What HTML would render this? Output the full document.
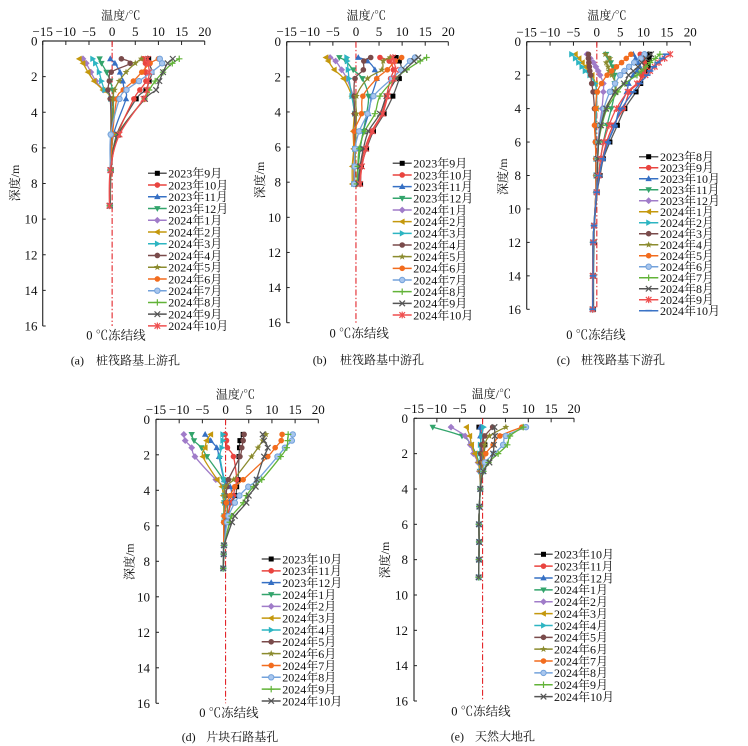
<!DOCTYPE html>
<html><head><meta charset="utf-8">
<style>
html,body{margin:0;padding:0;background:#fff;}
svg{display:block;}
text{font-family:"Liberation Serif","Noto Serif CJK SC",serif;fill:#111;}
.t{font-size:13px;}
.lg{font-size:12px;}
.ti{font-size:12px;}
.fz{font-size:12.5px;}
.cap{font-size:12px;}
</style></head><body>
<svg id="s" width="748" height="746" viewBox="0 0 748 746" xmlns="http://www.w3.org/2000/svg">
<g id="plots"></g>

<!-- ===== Chart A ===== -->
<g class="t" text-anchor="middle">
<text x="42.7" y="36">−15</text><text x="65.8" y="36">−10</text><text x="89.0" y="36">−5</text><text x="112.1" y="36">0</text><text x="135.3" y="36">5</text><text x="158.4" y="36">10</text><text x="181.6" y="36">15</text><text x="204.7" y="36">20</text>
</g>
<g class="t" text-anchor="end">
<text x="37.5" y="45.5">0</text><text x="37.5" y="81.1">2</text><text x="37.5" y="116.8">4</text><text x="37.5" y="152.4">6</text><text x="37.5" y="188">8</text><text x="37.5" y="223.6">10</text><text x="37.5" y="259.3">12</text><text x="37.5" y="294.9">14</text><text x="37.5" y="330.5">16</text>
</g>
<text class="ti" x="120.8" y="19.5" text-anchor="middle">温度/℃</text>
<text class="ti" transform="translate(19,183) rotate(-90)" text-anchor="middle">深度/m</text>
<text class="fz" x="116" y="339.5" text-anchor="middle">0 ℃冻结线</text>
<text class="cap" x="70.7" y="364.5">(a)</text><text class="cap" x="180" y="364.5" text-anchor="end">桩筏路基上游孔</text>
<g class="lg">
<text x="168.3" y="177.6">2023年9月</text><text x="168.3" y="189.3">2023年10月</text><text x="168.3" y="201.1">2023年11月</text><text x="168.3" y="212.8">2023年12月</text><text x="168.3" y="224.6">2024年1月</text><text x="168.3" y="236.3">2024年2月</text><text x="168.3" y="248.0">2024年3月</text><text x="168.3" y="259.8">2024年4月</text><text x="168.3" y="271.5">2024年5月</text><text x="168.3" y="283.3">2024年6月</text><text x="168.3" y="295.0">2024年7月</text><text x="168.3" y="306.7">2024年8月</text><text x="168.3" y="318.5">2024年9月</text><text x="168.3" y="330.2">2024年10月</text>
</g>

<!-- ===== Chart B ===== -->
<g class="t" text-anchor="middle">
<text x="286.7" y="36">−15</text><text x="309.8" y="36">−10</text><text x="332.9" y="36">−5</text><text x="356.0" y="36">0</text><text x="379.0" y="36">5</text><text x="402.1" y="36">10</text><text x="425.2" y="36">15</text><text x="448.3" y="36">20</text>
</g>
<g class="t" text-anchor="end">
<text x="281" y="46.2">0</text><text x="281" y="81.3">2</text><text x="281" y="116.5">4</text><text x="281" y="151.6">6</text><text x="281" y="186.7">8</text><text x="281" y="221.8">10</text><text x="281" y="257.0">12</text><text x="281" y="292.1">14</text><text x="281" y="327.2">16</text>
</g>
<text class="ti" x="366.3" y="19.5" text-anchor="middle">温度/℃</text>
<text class="ti" transform="translate(264,180) rotate(-90)" text-anchor="middle">深度/m</text>
<text class="fz" x="359.2" y="337.5" text-anchor="middle">0 ℃冻结线</text>
<text class="cap" x="312.7" y="363.8">(b)</text><text class="cap" x="424" y="363.8" text-anchor="end">桩筏路基中游孔</text>
<g class="lg">
<text x="413.3" y="167.6">2023年9月</text><text x="413.3" y="179.3">2023年10月</text><text x="413.3" y="190.9">2023年11月</text><text x="413.3" y="202.6">2023年12月</text><text x="413.3" y="214.3">2024年1月</text><text x="413.3" y="226.0">2024年2月</text><text x="413.3" y="237.6">2024年3月</text><text x="413.3" y="249.3">2024年4月</text><text x="413.3" y="261.0">2024年5月</text><text x="413.3" y="272.6">2024年6月</text><text x="413.3" y="284.3">2024年7月</text><text x="413.3" y="296.0">2024年8月</text><text x="413.3" y="307.6">2024年9月</text><text x="413.3" y="319.3">2024年10月</text>
</g>

<!-- ===== Chart C ===== -->
<g class="t" text-anchor="middle">
<text x="526.7" y="36.5">−15</text><text x="550.1" y="36.5">−10</text><text x="573.4" y="36.5">−5</text><text x="596.8" y="36.5">0</text><text x="620.2" y="36.5">5</text><text x="643.5" y="36.5">10</text><text x="666.9" y="36.5">15</text><text x="690.3" y="36.5">20</text>
</g>
<g class="t" text-anchor="end">
<text x="521" y="46.2">0</text><text x="521" y="79.7">2</text><text x="521" y="113.1">4</text><text x="521" y="146.6">6</text><text x="521" y="180">8</text><text x="521" y="213.5">10</text><text x="521" y="246.9">12</text><text x="521" y="280.4">14</text><text x="521" y="313.8">16</text>
</g>
<text class="ti" x="607" y="19.5" text-anchor="middle">温度/℃</text>
<text class="ti" transform="translate(507,176.7) rotate(-90)" text-anchor="middle">深度/m</text>
<text class="fz" x="596" y="338.8" text-anchor="middle">0 ℃冻结线</text>
<text class="cap" x="556.7" y="363.8">(c)</text><text class="cap" x="665" y="363.8" text-anchor="end">桩筏路基下游孔</text>
<g class="lg">
<text x="660" y="161">2023年8月</text><text x="660" y="172">2023年9月</text><text x="660" y="183">2023年10月</text><text x="660" y="194">2023年11月</text><text x="660" y="205">2023年12月</text><text x="660" y="216">2024年1月</text><text x="660" y="227">2024年2月</text><text x="660" y="238">2024年3月</text><text x="660" y="249">2024年4月</text><text x="660" y="260">2024年5月</text><text x="660" y="271">2024年6月</text><text x="660" y="282">2024年7月</text><text x="660" y="293">2024年8月</text><text x="660" y="304">2024年9月</text><text x="660" y="315">2024年10月</text>
</g>

<!-- ===== Chart D ===== -->
<g class="t" text-anchor="middle">
<text x="156" y="413.8">−15</text><text x="179.2" y="413.8">−10</text><text x="202.4" y="413.8">−5</text><text x="225.6" y="413.8">0</text><text x="248.7" y="413.8">5</text><text x="271.9" y="413.8">10</text><text x="295.1" y="413.8">15</text><text x="318.3" y="413.8">20</text>
</g>
<g class="t" text-anchor="end">
<text x="150" y="423.8">0</text><text x="150" y="459.3">2</text><text x="150" y="494.8">4</text><text x="150" y="530.3">6</text><text x="150" y="565.8">8</text><text x="150" y="601.3">10</text><text x="150" y="636.8">12</text><text x="150" y="672.3">14</text><text x="150" y="707.8">16</text>
</g>
<text class="ti" x="235.5" y="398.5" text-anchor="middle">温度/℃</text>
<text class="ti" transform="translate(133.3,561.7) rotate(-90)" text-anchor="middle">深度/m</text>
<text class="fz" x="229" y="717" text-anchor="middle">0 ℃冻结线</text>
<text class="cap" x="181.7" y="741">(d)</text><text class="cap" x="278.3" y="741" text-anchor="end">片块石路基孔</text>
<g class="lg">
<text x="282.3" y="563.3">2023年10月</text><text x="282.3" y="575.1">2023年11月</text><text x="282.3" y="587.0">2023年12月</text><text x="282.3" y="598.8">2024年1月</text><text x="282.3" y="610.6">2024年2月</text><text x="282.3" y="622.5">2024年3月</text><text x="282.3" y="634.3">2024年4月</text><text x="282.3" y="646.1">2024年5月</text><text x="282.3" y="657.9">2024年6月</text><text x="282.3" y="669.8">2024年7月</text><text x="282.3" y="681.6">2024年8月</text><text x="282.3" y="693.4">2024年9月</text><text x="282.3" y="705.3">2024年10月</text>
</g>

<!-- ===== Chart E ===== -->
<g class="t" text-anchor="middle">
<text x="414" y="412.8">−15</text><text x="436.9" y="412.8">−10</text><text x="459.7" y="412.8">−5</text><text x="482.6" y="412.8">0</text><text x="505.4" y="412.8">5</text><text x="528.3" y="412.8">10</text><text x="551.1" y="412.8">15</text><text x="574" y="412.8">20</text>
</g>
<g class="t" text-anchor="end">
<text x="408" y="422.8">0</text><text x="408" y="458.1">2</text><text x="408" y="493.5">4</text><text x="408" y="528.8">6</text><text x="408" y="564.2">8</text><text x="408" y="599.5">10</text><text x="408" y="634.8">12</text><text x="408" y="670.2">14</text><text x="408" y="705.5">16</text>
</g>
<text class="ti" x="491.3" y="397.8" text-anchor="middle">温度/℃</text>
<text class="ti" transform="translate(389,560) rotate(-90)" text-anchor="middle">深度/m</text>
<text class="fz" x="481" y="715.5" text-anchor="middle">0 ℃冻结线</text>
<text class="cap" x="450.7" y="740.5">(e)</text><text class="cap" x="535" y="740.5" text-anchor="end">天然大地孔</text>
<g class="lg">
<text x="554" y="558.6">2023年10月</text><text x="554" y="570.5">2023年11月</text><text x="554" y="582.3">2023年12月</text><text x="554" y="594.2">2024年1月</text><text x="554" y="606.0">2024年2月</text><text x="554" y="617.9">2024年3月</text><text x="554" y="629.8">2024年4月</text><text x="554" y="641.6">2024年5月</text><text x="554" y="653.5">2024年6月</text><text x="554" y="665.3">2024年7月</text><text x="554" y="677.2">2024年8月</text><text x="554" y="689.1">2024年9月</text><text x="554" y="700.9">2024年10月</text>
</g>
</svg>
<script>
(function(){
var NS='http://www.w3.org/2000/svg';
var root=document.getElementById('plots');
function el(tag,attrs,parent){var e=document.createElementNS(NS,tag);for(var k in attrs)e.setAttribute(k,attrs[k]);(parent||root).appendChild(e);return e;}
var S=[
 ['#595959','sq','#000000'],
 ['#e9443f','ci'],
 ['#3670c4','tu'],
 ['#33a46c','td'],
 ['#a07cc9','di'],
 ['#c4980d','tl'],
 ['#2db5c2','tr'],
 ['#7a4b4b','ci'],
 ['#8b8b2e','st'],
 ['#f26c1e','ci'],
 ['#73a2db','oc'],
 ['#62b338','pl'],
 ['#555555','xx'],
 ['#ef4f4f','as'],
 ['#3b73c6','da']
];
function marker(g,st,x,y){
 var c=st[0],t=st[1],mc=st[2]||c;
 if(t==='sq'){el('rect',{x:x-2.5,y:y-2.5,width:5,height:5,fill:mc},g);}
 else if(t==='ci'){el('circle',{cx:x,cy:y,r:2.8,fill:mc},g);}
 else if(t==='oc'){el('circle',{cx:x,cy:y,r:2.7,fill:'#a8c6ee',stroke:mc,'stroke-width':1},g);}
 else if(t==='tu'){el('polygon',{points:(x)+','+(y-3.4)+' '+(x-3.2)+','+(y+2.4)+' '+(x+3.2)+','+(y+2.4),fill:mc},g);}
 else if(t==='td'){el('polygon',{points:(x)+','+(y+3.4)+' '+(x-3.2)+','+(y-2.4)+' '+(x+3.2)+','+(y-2.4),fill:mc},g);}
 else if(t==='tl'){el('polygon',{points:(x-3.4)+','+(y)+' '+(x+2.4)+','+(y-3.2)+' '+(x+2.4)+','+(y+3.2),fill:mc},g);}
 else if(t==='tr'){el('polygon',{points:(x+3.4)+','+(y)+' '+(x-2.4)+','+(y-3.2)+' '+(x-2.4)+','+(y+3.2),fill:mc},g);}
 else if(t==='di'){el('polygon',{points:(x)+','+(y-3.4)+' '+(x+3.4)+','+(y)+' '+(x)+','+(y+3.4)+' '+(x-3.4)+','+(y),fill:mc},g);}
 else if(t==='st'){var pts=[];for(var i=0;i<10;i++){var a=-Math.PI/2+i*Math.PI/5,rr=(i%2?1.5:3.6);pts.push((x+rr*Math.cos(a)).toFixed(2)+','+(y+rr*Math.sin(a)).toFixed(2));}el('polygon',{points:pts.join(' '),fill:mc},g);}
 else if(t==='pl'){el('path',{d:'M'+(x-3.2)+','+y+'H'+(x+3.2)+'M'+x+','+(y-3.2)+'V'+(y+3.2),stroke:mc,'stroke-width':1.2,fill:'none'},g);}
 else if(t==='xx'){el('path',{d:'M'+(x-2.8)+','+(y-2.8)+'L'+(x+2.8)+','+(y+2.8)+'M'+(x-2.8)+','+(y+2.8)+'L'+(x+2.8)+','+(y-2.8),stroke:mc,'stroke-width':1.2,fill:'none'},g);}
 else if(t==='as'){el('path',{d:'M'+(x-2.8)+','+(y-2.8)+'L'+(x+2.8)+','+(y+2.8)+'M'+(x-2.8)+','+(y+2.8)+'L'+(x+2.8)+','+(y-2.8)+'M'+x+','+(y-3.4)+'V'+(y+3.4),stroke:mc,'stroke-width':1.2,fill:'none'},g);}
 else if(t==='da'){el('path',{d:'M'+(x-3.2)+','+y+'H'+(x+3.2),stroke:mc,'stroke-width':1.7,fill:'none'},g);}
}
function smooth(p){
 var d='M'+p[0][0].toFixed(2)+','+p[0][1].toFixed(2);
 for(var i=0;i<p.length-1;i++){
  var p0=p[i-1]||p[i],p1=p[i],p2=p[i+1],p3=p[i+2]||p2;
  var c1=[p1[0]+(p2[0]-p0[0])/6,p1[1]+(p2[1]-p0[1])/6];
  var c2=[p2[0]-(p3[0]-p1[0])/6,p2[1]-(p3[1]-p1[1])/6];
  d+=' C'+c1[0].toFixed(2)+','+c1[1].toFixed(2)+' '+c2[0].toFixed(2)+','+c2[1].toFixed(2)+' '+p2[0].toFixed(2)+','+p2[1].toFixed(2);
 }
 return d;
}
function chart(C){
 var g=el('g',{});
 function px(t){return C.X0+(t+15)/35*(C.X1-C.X0);}
 function py(d){return C.Y0+d/16*(C.Y1-C.Y0);}
 el('line',{x1:C.X0,y1:C.Y0,x2:C.X0,y2:C.Y1,stroke:'#333',"stroke-width":1.2},g);
 el('line',{x1:C.X0,y1:C.Y0,x2:C.X1,y2:C.Y0,stroke:'#333',"stroke-width":1.2},g);
 for(var t=-15;t<=20;t+=5){var x=px(t);el('line',{x1:x,y1:C.Y0,x2:x,y2:C.Y0+4,stroke:'#222','stroke-width':1},g);}
 for(var d=0;d<=16;d+=2){var y=py(d);el('line',{x1:C.X0,y1:y,x2:C.X0+3,y2:y,stroke:'#222','stroke-width':1},g);}
 el('line',{x1:px(0),y1:C.Y0,x2:px(0),y2:C.Y1,stroke:'#e3262b','stroke-width':1.1,'stroke-dasharray':'6,2.2,1.4,2.2'},g);
 for(var s=0;s<C.T.length;s++){
  var st=S[s],pts=[];
  for(var i=0;i<C.D.length;i++){pts.push([px(C.T[s][i]),py(C.D[i])]);}
  el('path',{d:smooth(pts),fill:'none',stroke:st[0],'stroke-width':1.3,'stroke-linejoin':'round'},g);
  for(var i=0;i<pts.length;i++)marker(g,st,pts[i][0],pts[i][1]);
  var ly=C.L.y+C.L.dy*s;
  el('line',{x1:C.L.x1,y1:ly,x2:C.L.x2,y2:ly,stroke:st[0],'stroke-width':1.5},g);
  marker(g,st,(C.L.x1+C.L.x2)/2,ly);
 }
}

chart({X0:42.7,X1:204.7,Y0:41,Y1:326,
 D:[1.0,1.25,1.75,2.25,2.75,3.25,5.25,7.25,9.25],
 L:{x1:148,x2:166.7,y:173.3,dy:11.74},
 T:[
 [7.9,8.0,8.6,8.0,7.3,5.2,1.0,-0.2,-0.4],
 [6.7,7.2,7.1,7.3,6.0,4.7,1.2,-0.3,-0.5],
 [-0.4,0.6,1.7,2.3,2.6,3.0,0.3,-0.3,-0.5],
 [-2.7,-2.3,-1.2,-0.4,0.1,0.3,0.1,-0.3,-0.5],
 [-6.3,-5.6,-4.6,-3.5,-1.9,-0.3,-0.2,-0.4,-0.5],
 [-7.1,-6.3,-5.2,-3.9,-2.0,-0.4,-0.3,-0.4,-0.5],
 [-4.2,-3.6,-2.8,-2.3,-1.6,-0.3,-0.2,-0.4,-0.5],
 [2.0,3.9,-0.2,-0.6,-0.9,-0.4,-0.2,-0.4,-0.5],
 [6.3,5.0,3.0,1.5,0.5,0.2,0.0,-0.3,-0.5],
 [10.0,8.2,6.4,4.6,2.4,1.0,0.1,-0.3,-0.5],
 [10.3,10.8,8.5,5.8,3.1,1.6,-0.3,-0.4,-0.5],
 [14.5,13.0,11.0,9.3,8.0,7.0,1.2,-0.3,-0.5],
 [13.1,12.0,11.0,10.2,9.5,7.1,1.3,-0.3,-0.5],
 [7.7,7.8,8.0,7.8,7.5,6.8,1.6,-0.4,-0.6]
 ]});

chart({X0:286.7,X1:448.3,Y0:41.7,Y1:322.7,
 D:[0.9,1.1,1.6,2.1,3.1,4.1,5.1,6.1,7.1,8.1],
 L:{x1:392.7,x2:411.7,y:163.3,dy:11.67},
 T:[
 [8.7,9.4,9.9,9.4,8.0,6.1,3.8,2.3,1.2,1.0],
 [5.2,7.2,8.1,7.5,6.6,5.6,3.4,1.9,1.0,0.7],
 [0.5,2.5,4.1,4.5,3.4,2.7,1.6,0.9,0.5,0.3],
 [-3.6,-2.2,-0.6,1.4,2.7,2.3,1.6,0.9,0.5,0.2],
 [-5.6,-4.4,-3.1,-2.0,-0.6,-0.2,-0.1,-0.2,-0.3,-0.5],
 [-6.5,-6.0,-4.7,-2.7,-0.9,-0.4,-0.6,-0.5,-0.8,-0.8],
 [-2.0,-1.9,-1.7,-1.5,-0.9,-0.3,-0.2,-0.3,-0.4,-0.5],
 [3.2,1.7,1.6,-0.2,-0.4,-0.3,-0.2,-0.3,-0.4,-0.5],
 [7.4,5.9,5.6,2.5,0.1,0.1,0.0,-0.1,-0.2,-0.3],
 [9.9,8.5,6.8,4.5,1.5,1.2,-0.4,-0.3,-0.4,-0.5],
 [12.8,11.7,9.8,7.8,3.8,2.5,0.7,-0.2,-0.3,-0.4],
 [15.3,13.9,11.0,8.5,5.2,4.1,1.9,0.7,0.4,0.2],
 [13.5,12.6,10.6,8.8,6.6,5.2,2.7,1.6,0.9,0.5],
 [8.0,8.2,8.6,8.2,6.9,5.8,3.6,2.2,1.3,0.9]
 ]});

chart({X0:526.7,X1:690.3,Y0:41.7,Y1:309.3,
 D:[0.75,1,1.25,1.5,1.75,2,2.5,3,4,5,6,7,8,9,11,12,14,16],
 L:{x1:639,x2:658.3,y:156.7,dy:11.0},
 T:[
 [11.3,11.2,11.0,11.0,10.5,10.0,9.4,8.4,6.0,4.4,2.8,1.4,0.7,0.1,-0.5,-0.6,-0.7,-0.7],
 [9.3,9.8,10.2,10.4,10.0,9.6,8.8,7.0,5.7,3.5,2.1,1.2,0.5,0.0,-0.6,-0.8,-0.9,-0.9],
 [7.8,8.3,8.8,9.2,8.6,7.8,6.8,6.4,4.8,3.9,2.4,1.3,0.5,0.0,-0.6,-0.8,-0.8,-0.9],
 [2.0,2.5,3.0,3.4,3.6,3.8,3.8,3.9,3.1,2.2,1.4,0.8,0.4,0.0,-0.6,-0.8,-0.8,-0.9],
 [-2.1,-1.4,-0.7,-0.2,0.3,0.7,1.4,1.4,1.1,0.6,0.3,0.1,0.0,-0.1,-0.6,-0.8,-0.8,-0.9],
 [-4.6,-3.8,-3.1,-2.5,-1.8,-1.0,-0.3,-0.1,-0.1,-0.2,-0.2,-0.2,-0.2,-0.2,-0.6,-0.8,-0.8,-0.9],
 [-5.4,-4.6,-3.9,-3.2,-2.5,-1.5,-0.4,0.0,-0.1,-0.2,-0.2,-0.2,-0.2,-0.2,-0.6,-0.8,-0.8,-0.9],
 [-1.8,-1.8,-1.7,-1.6,-1.5,-1.3,-1.1,-0.8,-0.5,-0.4,-0.3,-0.2,-0.2,-0.2,-0.6,-0.8,-0.8,-0.9],
 [1.8,2.8,2.0,2.4,2.6,3.2,4.0,3.9,1.8,0.9,0.4,0.2,0.1,0.0,-0.6,-0.8,-0.8,-0.9],
 [7.3,6.3,5.3,4.2,3.2,2.2,1.0,0.1,-0.3,-0.5,-0.3,-0.2,-0.2,-0.2,-0.6,-0.8,-0.8,-0.9],
 [10.2,9.4,8.0,6.9,5.9,5.0,3.9,2.8,1.5,0.7,0.3,0.1,0.0,-0.1,-0.6,-0.8,-0.8,-0.9],
 [13.5,12.5,11.4,10.5,9.5,8.6,6.0,4.5,2.2,1.1,0.4,0.2,0.1,0.0,-0.6,-0.8,-0.8,-0.9],
 [11.6,10.5,9.6,8.8,7.8,6.8,5.8,3.9,2.0,0.9,0.4,0.2,0.1,0.0,-0.6,-0.8,-0.8,-0.9],
 [15.7,14.5,13.3,12.4,11.4,10.4,8.6,6.6,4.2,2.6,1.5,0.8,0.4,0.0,-0.6,-0.8,-0.9,-0.9],
 [14.8,14.0,13.0,12.2,11.4,10.8,9.2,7.8,5.3,3.8,2.4,1.3,0.5,0.0,-0.6,-0.8,-0.8,-0.9]
 ]});

chart({X0:156,X1:318.3,Y0:419.3,Y1:703.3,
 D:[0.85,1.2,1.6,2.1,3.4,3.8,4.3,4.7,5.45,5.8,7.1,7.6,8.4],
 L:{x1:261.7,x2:280.7,y:559,dy:11.83},
 T:[
 [3.8,3.1,3.0,2.9,2.7,2.4,2.2,1.2,0.5,0.2,-0.4,-0.4,-0.5],
 [-0.1,0.2,0.4,1.7,2.4,2.0,1.7,1.1,0.4,0.1,-0.4,-0.4,-0.5],
 [-4.4,-3.2,-1.9,-1.4,-0.3,1.0,1.3,0.6,0.2,0.0,-0.4,-0.4,-0.5],
 [-7.3,-6.8,-5.2,-4.0,-0.5,-0.3,-0.3,-0.3,-0.3,-0.3,-0.4,-0.4,-0.5],
 [-9.0,-8.7,-7.3,-6.6,-2.1,-0.3,-0.3,-0.3,-0.3,-0.3,-0.4,-0.4,-0.5],
 [-3.2,-4.1,-4.4,-4.9,-1.8,-0.8,-0.5,-0.4,-0.4,-0.4,-0.4,-0.4,-0.5],
 [-0.6,-0.6,-0.8,-1.2,-0.3,-0.2,-0.2,-0.2,-0.3,-0.3,-0.4,-0.4,-0.5],
 [4.0,3.8,3.5,3.1,0.6,0.3,0.1,0.0,-0.2,-0.3,-0.4,-0.4,-0.5],
 [8.7,8.0,7.0,5.6,1.7,-0.1,-0.2,0.2,0.5,0.8,-0.3,-0.4,-0.5],
 [12.2,12.0,10.7,9.1,3.8,2.0,1.0,0.2,-0.3,-0.4,-0.4,-0.4,-0.5],
 [14.5,14.3,12.8,11.2,6.9,4.9,3.0,2.0,0.6,0.3,-0.3,-0.4,-0.5],
 [13.5,13.4,13.2,11.9,7.8,6.0,4.5,3.8,1.3,0.9,-0.3,-0.4,-0.5],
 [8.0,8.3,9.1,8.3,6.7,6.5,5.0,4.5,2.0,1.4,-0.3,-0.4,-0.5]
 ]});

var ed=[-0.5,-0.7,-0.8,-0.75,-0.8,-0.85];
function E(a){return a.concat(ed);}
chart({X0:414,X1:574,Y0:418.3,Y1:701,
 D:[0.5,1,1.5,2,2.5,3,4,5,6,7,8,9],
 L:{x1:534.3,x2:552.7,y:554.3,dy:11.86},
 T:[
 E([-0.8,-0.1,0.5,0.3,0.0,-0.2]),
 E([-0.3,0.0,0.1,0.0,-0.1,-0.2]),
 E([-0.5,-0.5,-0.3,-0.2,-0.3,-0.3]),
 E([-10.9,-4.5,-2.5,-1.5,-0.8,-0.6]),
 E([-6.9,-3.8,-2.7,-2.0,-1.0,-0.7]),
 E([-3.5,-2.8,-2.4,-1.7,-0.9,-0.6]),
 E([0.2,-0.2,-0.5,-0.6,-0.5,-0.4]),
 E([2.2,0.5,-0.2,-0.4,-0.4,-0.3]),
 E([5.1,1.5,0.5,0.2,0.0,-0.2]),
 E([8.6,3.8,2.3,0.7,0.3,0.0]),
 E([9.5,5.1,4.5,2.5,0.5,0.1]),
 E([8.9,6.0,5.4,3.4,1.3,0.2]),
 E([2.6,2.7,2.5,2.3,1.5,0.2])
 ]});
})();
</script>
</body></html>
